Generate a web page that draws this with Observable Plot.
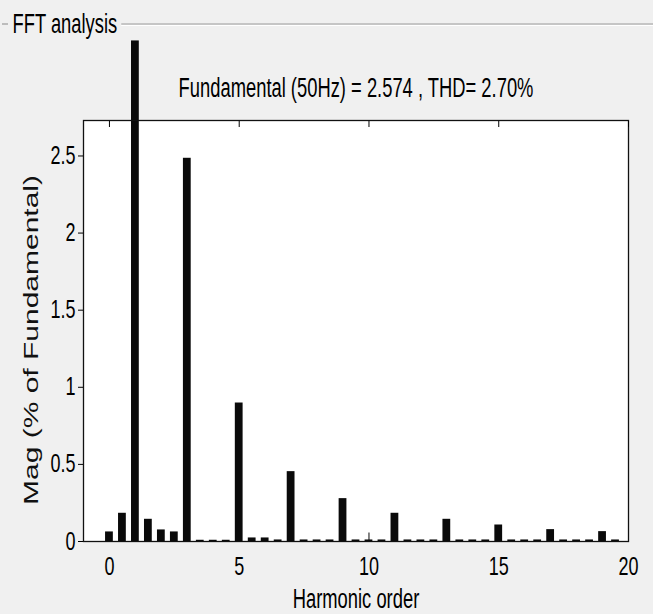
<!DOCTYPE html>
<html>
<head>
<meta charset="utf-8">
<script src="https://cdn.jsdelivr.net/npm/d3@7"></script>
<script src="https://cdn.jsdelivr.net/npm/@observablehq/plot@0.6"></script>
<style>
  html, body { margin: 0; padding: 0; background: #f0f0f0; }
  #chart svg { display: block; }
</style>
</head>
<body>
<div id="chart"></div>
<script>
// Harmonic orders (interharmonics at half steps)
const orders = [0, 0.5, 1, 1.5, 2, 2.5, 3, 3.5, 4, 4.5, 5, 5.5, 6, 6.5, 7, 7.5, 8, 8.5, 9, 9.5,
                10, 10.5, 11, 11.5, 12, 12.5, 13, 13.5, 14, 14.5, 15, 15.5, 16, 16.5, 17, 17.5, 18, 18.5, 19, 19.5];
// Magnitudes (% of fundamental); the fundamental bar runs off the top of the axes
const mags = [0.062, 0.183, 3.246, 0.144, 0.075, 0.062, 2.485, 0.008, 0.008, 0.008,
              0.898, 0.023, 0.023, 0.010, 0.453, 0.010, 0.010, 0.010, 0.278, 0.010,
              0.010, 0.010, 0.183, 0.010, 0.010, 0.010, 0.144, 0.010, 0.010, 0.010,
              0.107, 0.010, 0.010, 0.010, 0.077, 0.010, 0.010, 0.010, 0.064, 0.010];
const spikeOrders = [10];
const spikeMags = [0.055];
const xTicks = [0, 5, 10, 15, 20];
const yTicks = [0, 0.5, 1, 1.5, 2, 2.5];
const yTickLabels = ["0", "0.5", "1", "1.5", "2", "2.5"];
const panelTitle = "FFT analysis";
const subtitle = "Fundamental (50Hz) = 2.574 , THD= 2.70%";
const xLabel = "Harmonic order";
const yLabel = "Mag (% of Fundamental)";

const halfWidth = 0.15;
const bars = orders.map((h, i) => ({h, v: mags[i]}));
const spikes = spikeOrders.map((h, i) => ({h, v: spikeMags[i]}));

const sans = "'Liberation Sans', Arial, Helvetica, sans-serif";

const plot = Plot.plot({
  width: 662,
  height: 614,
  marginLeft: 83,
  marginRight: 34,
  marginTop: 120,
  marginBottom: 73,
  style: {background: "#f0f0f0", fontFamily: sans, fontSize: "25px", color: "#000"},
  x: {domain: [-1, 20]},
  y: {domain: [0, 2.73]},
  marks: [
    Plot.frame({fill: "white", stroke: null}),
    Plot.rectY(bars, {x1: d => d.h - halfWidth, x2: d => d.h + halfWidth, y: "v", fill: "#0a0a0a"}),
    Plot.ruleX(spikes, {x: "h", y1: 0, y2: "v", stroke: "#0a0a0a", strokeWidth: 1}),
    Plot.frame({stroke: "#111", strokeWidth: 1.3}),
    Plot.axisX({ticks: xTicks, tickSize: 0, tickPadding: 16, label: null, fontSize: 25, className: "sq72"}),
    Plot.axisX({anchor: "top", ticks: xTicks, tickSize: -6, tickFormat: () => "", label: null}),
    Plot.axisY({ticks: yTicks, tickSize: 5, tickPadding: 3, label: null, fontSize: 25, className: "sq72",
                tickFormat: d => yTickLabels[yTicks.indexOf(d)]}),
    Plot.text([subtitle], {frameAnchor: "top", lineAnchor: "middle", dy: -32, fontSize: 27, fill: "black", className: "sq68"}),
    Plot.text([xLabel], {frameAnchor: "bottom", lineAnchor: "middle", dy: 58, fontSize: 27, fill: "black", className: "sq68"}),
    Plot.text([panelTitle], {frameAnchor: "top-left", lineAnchor: "middle", textAnchor: "start", dx: -71, dy: -96, fontSize: 27, fill: "black", className: "sq68 ttl"})
  ]
});

document.getElementById("chart").appendChild(plot);

// Horizontally condense text (the reference font is a narrow face)
function squeeze(selector, sx) {
  plot.querySelectorAll(selector).forEach(t => {
    const len = t.getComputedTextLength();
    if (len > 0) {
      t.setAttribute("textLength", (len * sx).toFixed(2));
      t.setAttribute("lengthAdjust", "spacingAndGlyphs");
    }
  });
}
squeeze(".sq72 text", 0.72);
squeeze(".sq68 text", 0.68);

// Decorations: group box line, right white strip, rotated y label
const svg = d3.select(plot);
svg.insert("rect", ":first-child").attr("x", 653).attr("y", 0).attr("width", 9).attr("height", 614).attr("fill", "#ffffff");
let titleRight = 124;
const ttl = plot.querySelector(".ttl text");
if (ttl) { const b = ttl.getBoundingClientRect(), s = plot.getBoundingClientRect(); if (b.width > 0) titleRight = b.right - s.left + 4; }
svg.append("line").attr("x1", 2).attr("x2", 8).attr("y1", 24).attr("y2", 24).attr("stroke", "#9a9a9a").attr("stroke-width", 1.2);
svg.append("line").attr("x1", titleRight).attr("x2", 653).attr("y1", 24).attr("y2", 24).attr("stroke", "#9a9a9a").attr("stroke-width", 1.2);
svg.append("line").attr("x1", titleRight).attr("x2", 653).attr("y1", 25.5).attr("y2", 25.5).attr("stroke", "#ffffff").attr("stroke-width", 1);
svg.append("text")
  .attr("transform", "translate(38,340) rotate(-90) scale(1,0.66)")
  .attr("text-anchor", "middle")
  .attr("font-family", sans)
  .attr("font-size", 30)
  .attr("fill", "#111")
  .text(yLabel);
</script>
</body>
</html>
